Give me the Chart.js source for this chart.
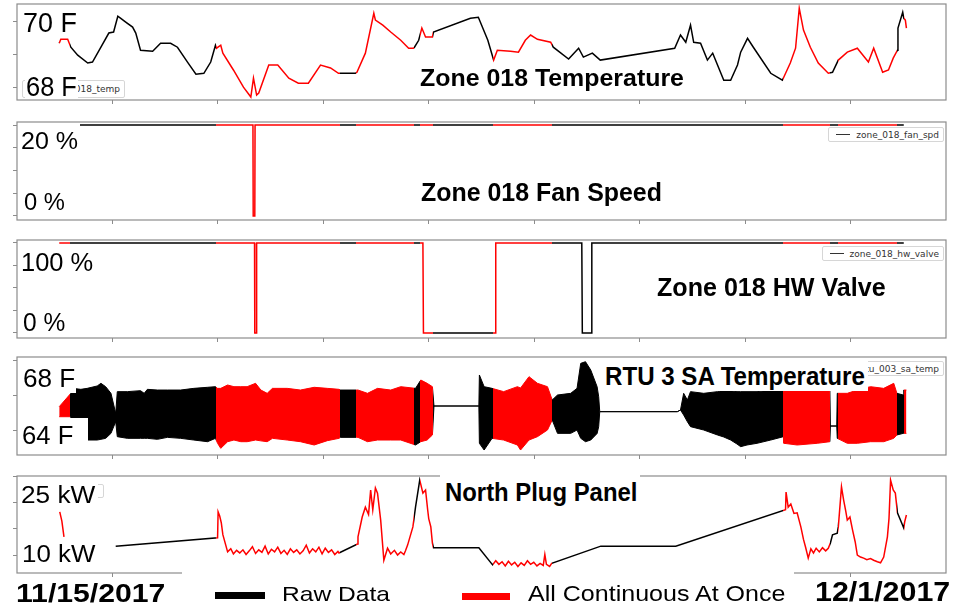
<!DOCTYPE html>
<html>
<head>
<meta charset="utf-8">
<script src="https://cdn.jsdelivr.net/npm/chart.js@4.4.0/dist/chart.umd.min.js"></script>
<style>
  body { margin: 0; width: 953px; height: 607px; background: #fff; position: relative; overflow: hidden;
         font-family: "Liberation Sans", Arial, sans-serif; }
  canvas { position: absolute; }
  .lbl { position: absolute; white-space: nowrap; line-height: 1; transform-origin: 0 0; color: #000; }
  .wbox { position: absolute; background: #fff; }
  .mleg { position: absolute; background: #fff; border: 1px solid #d6d6d6; border-radius: 2px; box-sizing: border-box;
          display: flex; justify-content: flex-end; align-items: center; padding-right: 4px; overflow: hidden;
          font: 9px "DejaVu Sans", sans-serif; color: #333; white-space: nowrap; }
  .mleg i { display: inline-block; width: 14px; height: 1.5px; background: #333; margin-right: 6px; }
  .bar { position: absolute; }
</style>
</head>
<body>
<script>
// -----------------------------
// shared x axis: days since 11/15/2017 00:00
// -----------------------------
const xMin = -0.8, xMax = 16.8;
const xTickDays = [1, 3, 5, 7, 9, 11, 13, 15];
// periods drawn red ("All Continuous At Once"), in days
const redWindows = [[0, 0.21], [2.97, 5.31], [5.63, 6.72], [6.84, 7.08], [8.21, 9.33], [13.72, 14.6], [14.75, 15.88], [16.0, 16.1]];

// Zone 018 Temperature (F)
const tempDays = [0.00,0.03,0.16,0.22,0.35,0.54,0.63,0.79,0.94,1.03,1.11,1.16,1.26,1.39,1.45,1.54,1.77,1.92,2.11,2.24,
  2.43,2.59,2.74,2.87,2.96,2.98,3.06,3.10,3.30,3.49,3.63,3.68,3.74,3.78,3.97,4.14,4.35,4.53,4.72,4.95,
  5.14,5.29,5.33,5.61,5.64,5.80,5.96,5.99,6.13,6.28,6.47,6.62,6.71,6.73,6.81,6.87,6.94,7.07,7.09,7.79,
  7.94,8.12,8.23,8.30,8.55,8.70,8.83,8.93,9.06,9.31,9.36,9.65,9.84,9.93,10.10,10.25,11.66,11.77,11.87,11.96,
  12.02,12.15,12.28,12.38,12.59,12.72,12.85,12.91,13.04,13.15,13.48,13.70,13.85,13.95,14.02,14.10,14.23,14.38,14.57,14.65,
  14.76,14.93,15.12,15.33,15.43,15.60,15.71,15.80,15.88,15.89,15.98,16.00,16.03,16.05];
const tempF = [69.33,69.45,69.45,69.21,68.97,68.73,68.76,69.21,69.64,69.67,70.15,70.09,69.97,69.82,69.64,69.12,69.09,69.33,69.33,69.21,
  68.76,68.39,68.42,68.76,69.27,69.18,69.27,69.03,68.52,68.00,67.70,68.27,67.76,67.82,68.67,68.67,68.27,68.12,68.12,68.67,
  68.58,68.42,68.42,68.42,68.45,69.03,70.24,70.03,69.88,69.67,69.42,69.18,69.18,69.21,69.42,69.79,69.52,69.52,69.67,70.09,
  70.12,69.42,68.82,69.12,69.09,69.06,69.42,69.58,69.45,69.36,69.21,68.85,69.18,68.91,69.03,68.82,69.18,69.58,69.36,69.88,
  69.36,69.33,68.82,69.03,68.21,68.21,68.67,69.06,69.48,69.21,68.42,68.21,68.73,69.18,70.39,69.73,69.21,68.73,68.42,68.45,
  68.82,69.06,69.18,68.76,69.18,68.45,68.52,68.88,69.12,69.79,70.27,70.09,70.03,69.79];

// Zone 018 Fan Speed (%)
const fanDays = [0, 3.67, 3.675, 3.705, 3.71, 16.0];
const fanPct = [20, 20, 0, 0, 20, 20];

// Zone 018 HW Valve (%)
const valveDays = [0, 3.70, 3.705, 3.735, 3.74, 6.89, 6.90, 8.26, 8.27, 9.90, 9.91, 10.08, 10.09, 16.0];
const valvePct = [100, 100, 0, 0, 100, 100, 0, 0, 100, 100, 0, 0, 100, 100];

// RTU 3 SA Temperature (F): upper / lower edge of the oscillation
const rtuDays = [0.00,0.22,0.25,0.41,0.53,0.72,0.79,0.88,0.98,1.07,1.10,1.29,1.54,1.61,1.67,1.86,2.05,2.30,2.55,2.81,
  2.96,3.00,3.06,3.19,3.31,3.44,3.56,3.72,3.82,3.94,4.04,4.32,4.57,4.83,5.08,5.30,5.33,5.63,5.66,5.84,
  6.03,6.28,6.47,6.75,6.85,6.97,7.07,7.10,7.95,7.96,8.05,8.20,8.42,8.68,8.74,8.90,9.06,9.25,9.34,9.44,
  9.69,9.81,9.88,9.97,10.07,10.19,10.22,10.24,11.71,11.77,11.83,11.90,11.96,12.21,12.47,12.59,12.72,12.84,12.91,13.03,
  13.22,13.48,13.72,13.73,13.98,14.36,14.60,14.61,14.73,14.74,14.93,15.12,15.37,15.62,15.81,15.87,15.99,16.00,16.05];
const rtuHigh = [63.33,65.24,65.95,65.81,65.95,66.29,66.67,66.19,65.24,62.38,65.48,65.48,65.62,65.24,65.81,65.71,65.71,65.71,65.95,66.10,
  66.19,65.95,65.95,66.43,66.19,66.19,66.19,66.67,65.71,65.24,65.95,65.95,65.71,66.10,65.95,65.81,65.71,65.71,65.71,65.24,
  65.95,65.71,66.19,65.95,67.14,66.67,66.19,63.43,63.43,67.86,66.19,65.95,65.48,66.19,66.00,67.62,66.67,66.19,64.29,65.00,
  65.24,65.95,69.52,69.76,68.57,66.19,64.76,62.62,62.62,62.86,65.24,64.29,65.48,65.24,65.48,65.71,65.60,65.48,65.48,65.48,
  65.48,65.71,65.95,65.71,65.81,65.76,65.71,60.57,60.57,65.24,65.24,65.71,66.19,65.95,66.67,65.24,65.00,65.71,65.71];
const rtuLow = [61.90,61.90,58.57,58.57,58.57,58.57,58.67,58.81,59.52,61.19,59.05,58.81,58.81,58.81,58.81,58.67,58.95,58.81,58.57,58.33,
  58.81,58.10,57.38,58.33,58.57,58.33,58.33,58.57,58.45,58.33,58.81,58.57,58.33,57.86,58.48,58.81,58.95,58.95,58.95,58.33,
  58.57,58.57,58.57,57.86,58.33,58.57,59.29,63.43,63.43,58.10,57.14,58.81,58.57,57.86,57.14,58.57,59.05,60.00,61.43,59.52,
  59.52,60.00,58.81,58.33,58.57,59.50,60.48,62.62,62.62,62.86,62.14,61.19,60.48,60.00,59.29,59.00,58.57,58.00,57.62,57.86,
  58.10,58.57,59.05,58.10,57.86,58.10,58.33,60.57,60.57,58.81,58.10,58.10,58.33,58.33,58.81,59.29,59.52,59.52,59.52];

// North Plug Panel (kW), null = no data
const plugDays = [0.01,0.05,0.09,0.50,1.07,3.00,3.01,3.04,3.07,3.10,3.19,3.25,3.30,3.36,3.42,3.48,3.54,3.60,3.66,3.72,
  3.78,3.84,3.90,3.96,4.02,4.08,4.14,4.20,4.26,4.32,4.38,4.44,4.50,4.56,4.62,4.68,4.74,4.80,4.86,4.92,
  4.98,5.04,5.10,5.16,5.22,5.28,5.30,5.65,5.66,5.74,5.80,5.86,5.90,5.94,5.99,6.03,6.09,6.15,6.22,6.28,
  6.35,6.41,6.47,6.53,6.56,6.60,6.70,6.75,6.83,6.89,6.94,6.98,7.00,7.04,7.07,7.09,7.95,8.21,8.27,8.33,
  8.39,8.45,8.51,8.57,8.63,8.69,8.75,8.81,8.87,8.93,8.99,9.05,9.11,9.17,9.20,9.23,9.29,9.33,10.26,11.68,
  13.76,13.77,13.81,13.86,13.92,13.98,14.05,14.10,14.14,14.19,14.24,14.29,14.34,14.40,14.46,14.52,14.57,14.61,14.65,14.74,
  14.76,14.82,14.86,14.90,14.93,14.98,15.03,15.08,15.12,15.18,15.24,15.30,15.37,15.43,15.50,15.56,15.62,15.69,15.72,15.75,
  15.80,15.84,15.88,16.00,16.02,16.05];
const plugKw = [18.3,16.5,13.5,null,11.7,13.3,18.3,17.5,16.2,13.9,10.6,11.2,10.2,10.9,10.4,11.0,10.1,10.8,11.6,10.3,
  11.0,10.5,11.7,10.2,11.1,10.6,11.5,10.3,10.9,10.1,11.2,10.5,11.0,10.2,10.8,11.9,10.4,11.2,10.6,11.5,
  10.2,11.3,10.5,11.0,10.1,10.7,10.4,12.1,13.5,17.3,19.2,17.8,22.5,18.7,22.9,21.9,16.7,9.0,11.3,10.2,
  10.9,10.0,10.6,10.1,10.8,11.9,15.4,19.2,24.4,21.9,22.5,18.7,17.0,15.4,12.3,11.4,11.4,8.1,8.9,8.2,
  8.7,7.9,8.8,8.1,8.6,7.8,8.5,8.0,8.9,8.2,8.6,7.9,8.4,8.0,10.1,8.2,7.8,8.4,11.7,11.7,
  18.7,22.1,19.2,19.8,18.0,18.1,15.4,13.0,11.5,9.4,11.2,10.4,11.3,10.6,11.4,10.8,11.3,12.3,13.9,14.2,
  15.4,23.1,20.6,18.5,16.7,17.3,14.8,12.5,10.0,9.6,9.4,9.1,9.3,9.0,8.7,8.5,9.6,13.5,17.0,24.4,
  22.5,21.9,18.1,15.2,16.5,17.7];

const RED = "#ff0000";
const BLACK = "#000000";

// -----------------------------
// colour by time window (black raw data, red windows)
// -----------------------------
function windowColor(context) {
  const chart = context.chart;
  const area = chart.chartArea;
  if (!area) return BLACK;
  const xs = chart.scales.x;
  const w = area.right - area.left;
  const pos = d => Math.min(1, Math.max(0, (xs.getPixelForValue(d) - area.left) / w));
  const g = chart.ctx.createLinearGradient(area.left, 0, area.right, 0);
  g.addColorStop(0, BLACK);
  redWindows.forEach(([a, b]) => {
    g.addColorStop(pos(a), BLACK);
    g.addColorStop(pos(a), RED);
    g.addColorStop(pos(b), RED);
    g.addColorStop(pos(b), BLACK);
  });
  g.addColorStop(1, BLACK);
  return g;
}

const toPoints = (xs, ys) => xs.map((x, i) => ({ x: x, y: ys[i] }));

const framePlugin = {
  id: "frame",
  afterDraw(chart) {
    const { ctx, chartArea: a } = chart;
    ctx.save();
    ctx.strokeStyle = "#8c8c8c";
    ctx.lineWidth = 1.2;
    ctx.strokeRect(a.left, a.top, a.right - a.left, a.bottom - a.top);
    ctx.restore();
  }
};

function makePanel(frameTop, frameBottom, datasets, yMin, yMax, yTicks) {
  const cv = document.createElement("canvas");
  cv.width = 936;
  cv.height = frameBottom - frameTop + 7;
  cv.style.left = "12px";
  cv.style.top = (frameTop - 2) + "px";
  document.body.appendChild(cv);

  const gridOpts = { drawOnChartArea: false, tickLength: 4, color: "#8c8c8c", lineWidth: 1 };
  return new Chart(cv, {
    type: "line",
    data: { datasets: datasets },
    options: {
      responsive: false,
      animation: false,
      events: [],
      layout: { padding: { top: 2, right: 2, left: 0, bottom: 0 } },
      plugins: { legend: { display: false }, tooltip: { enabled: false } },
      elements: { point: { radius: 0 }, line: { tension: 0, borderWidth: 1.5 } },
      scales: {
        x: {
          type: "linear", min: xMin, max: xMax,
          afterBuildTicks: s => { s.ticks = xTickDays.map(v => ({ value: v })); },
          afterFit: s => { s.height = 5; },
          ticks: { display: false },
          grid: gridOpts,
          border: { display: false }
        },
        y: {
          type: "linear", min: yMin, max: yMax,
          afterBuildTicks: s => { s.ticks = yTicks.map(v => ({ value: v })); },
          afterFit: s => { s.width = 5; },
          ticks: { display: false },
          grid: gridOpts,
          border: { display: false }
        }
      }
    },
    plugins: [framePlugin]
  });
}

// -----------------------------
// the five panels
// -----------------------------
makePanel(4, 100, [
  { data: toPoints(tempDays, tempF), borderColor: windowColor, fill: false }
], 67.61, 70.52, [68, 69, 70]);

makePanel(122, 220, [
  { data: toPoints(fanDays, fanPct), borderColor: windowColor, fill: false }
], -0.88, 20.66, [0, 5, 10, 15, 20]);

makePanel(240, 338, [
  { data: toPoints(valveDays, valvePct), borderColor: windowColor, fill: false }
], -5.6, 103.3, [0, 25, 50, 75, 100]);

makePanel(357, 455, [
  { data: toPoints(rtuDays, rtuHigh), borderColor: windowColor, backgroundColor: windowColor, borderWidth: 1, fill: "+1" },
  { data: toPoints(rtuDays, rtuLow), borderColor: windowColor, borderWidth: 1, fill: false }
], 56.43, 70.43, [60, 65, 70]);

makePanel(476, 573, [
  { data: toPoints(plugDays, plugKw), borderColor: windowColor, fill: false, spanGaps: false }
], 6.54, 25.19, [10, 15, 20, 25]);

// -----------------------------
// small matplotlib legends inside the panels
// -----------------------------
const innerLegends = [
  { text: "zone_018_temp", x: 22, y: 80, w: 103, h: 18 },
  { text: "zone_018_fan_spd", x: 828, y: 127, w: 116, h: 15 },
  { text: "zone_018_hw_valve", x: 822, y: 246, w: 122, h: 15 },
  { text: "rtu_003_sa_temp", x: 826, y: 361, w: 118, h: 15 },
  { text: "", x: 20, y: 484, w: 84, h: 14 }
];
innerLegends.forEach(l => {
  const d = document.createElement("div");
  d.className = "mleg";
  Object.assign(d.style, { left: l.x + "px", top: l.y + "px", width: l.w + "px", height: l.h + "px" });
  if (l.text) d.innerHTML = "<i></i><span>" + l.text + "</span>";
  document.body.appendChild(d);
});

// white text boxes of the slide that sit over the plots
const whiteBoxes = [
  [25, 75, 53, 23], [18, 123, 62, 28], [18, 246, 78, 27], [18, 365, 58, 28], [18, 418, 70, 32],
  [600, 358, 268, 33], [18, 478, 80, 28], [440, 469, 200, 37], [182, 571, 612, 36]
];
whiteBoxes.forEach(([x, y, w, h]) => {
  const d = document.createElement("div");
  d.className = "wbox";
  Object.assign(d.style, { left: x + "px", top: y + "px", width: w + "px", height: h + "px" });
  document.body.appendChild(d);
});

// bottom legend swatches
[[215, 592, 50, 7, BLACK], [462, 593, 48, 7, RED]].forEach(([x, y, w, h, c]) => {
  const d = document.createElement("div");
  d.className = "bar";
  Object.assign(d.style, { left: x + "px", top: y + "px", width: w + "px", height: h + "px", background: c });
  document.body.appendChild(d);
});

// -----------------------------
// slide text: [text, left, cap top, cap height, width, bold]
// -----------------------------
const labels = [
  ["70 F", 23, 13, 20, 54, false],
  ["68 F", 26, 77, 20, 51, false],
  ["Zone 018 Temperature", 420, 69, 17.5, 264, true],
  ["20 %", 21, 133, 17, 57, false],
  ["0 %", 24, 194, 17, 41, false],
  ["Zone 018 Fan Speed", 421, 183, 18, 241, true],
  ["100 %", 21, 253, 18, 72, false],
  ["0 %", 23, 313, 18, 42, false],
  ["Zone 018 HW Valve", 657, 277, 19, 229, true],
  ["68 F", 23, 369, 18, 52, false],
  ["64 F", 22, 426, 18, 51, false],
  ["RTU 3 SA Temperature", 605, 366, 19, 260, true],
  ["25 kW", 21, 487, 17, 74, false],
  ["10 kW", 22, 546, 17, 73, false],
  ["North Plug Panel", 445, 483, 18, 192, true],
  ["11/15/2017", 16, 583, 19, 149, true],
  ["Raw Data", 282, 587, 15, 108, false],
  ["All Continuous At Once", 528, 586, 15.5, 257, false],
  ["12/1/2017", 815, 582, 20, 135, true]
];
labels.forEach(([text, x, capTop, capH, w, bold]) => {
  const fs = capH / 0.716;
  const d = document.createElement("div");
  d.className = "lbl";
  d.textContent = text;
  Object.assign(d.style, {
    left: x + "px",
    top: (capTop - 0.1305 * fs) + "px",
    fontSize: fs + "px",
    fontWeight: bold ? "bold" : "normal"
  });
  document.body.appendChild(d);
  const natural = d.offsetWidth;
  if (natural > 0) d.style.transform = "scaleX(" + (w / natural) + ")";
});
</script>
</body>
</html>
